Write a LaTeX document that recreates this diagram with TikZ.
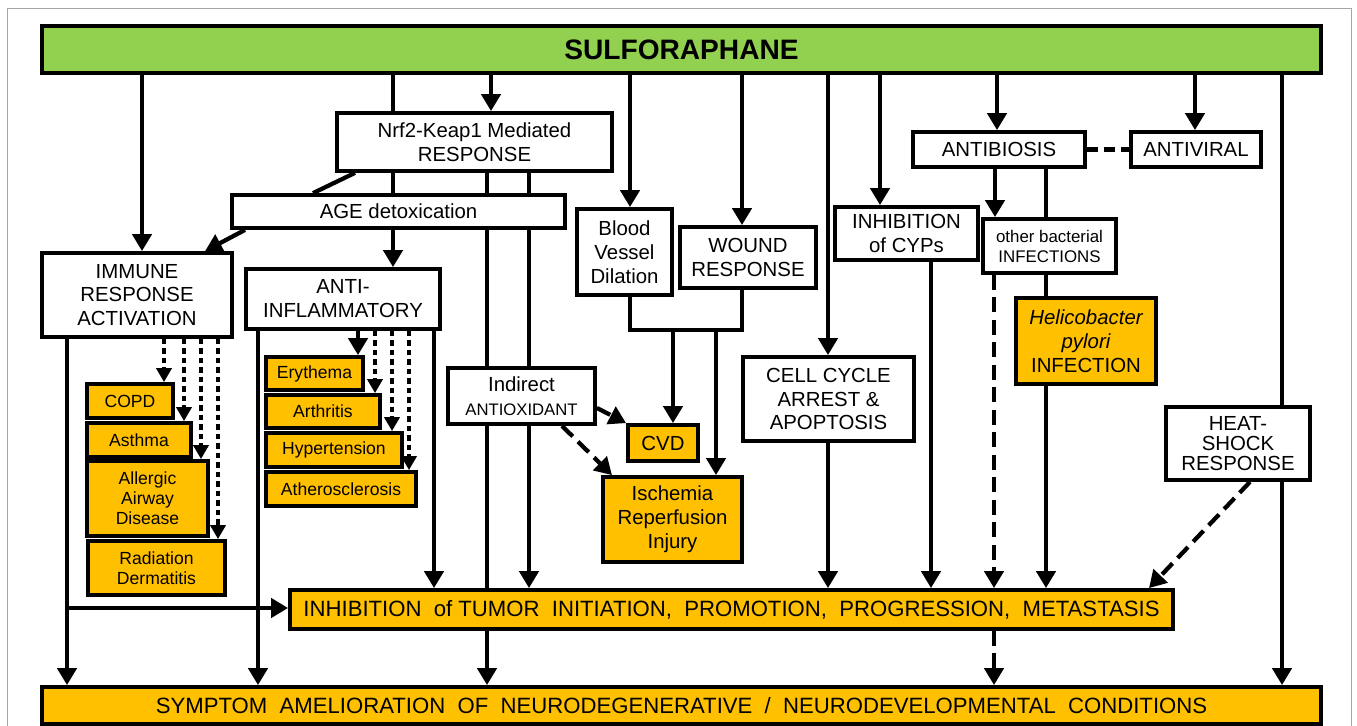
\documentclass[tikz,border=0pt]{standalone}
\usepackage{fontspec}
\setmainfont{Liberation Sans}
\usetikzlibrary{arrows.meta}
\definecolor{verde}{HTML}{92D050}
\definecolor{naranjo}{HTML}{FFC000}
\tikzset{
  caja/.style={draw, line width=0.75mm, fill=white, align=center, inner sep=0pt, font=\fontsize{11.6}{13.6}\selectfont},
  naranja/.style={caja, fill=naranjo},
  chica/.style={font=\fontsize{10}{11.4}\selectfont},
  grande/.style={font=\fontsize{12.6}{14}\selectfont},
  tam/.style 2 args={minimum width=#1*0.02cm, minimum height=#2*0.02cm},
  linea/.style={line width=0.85mm},
  flecha/.style={linea, -{Triangle[width=3.8mm,length=3.4mm]}},
  punteada/.style={line width=0.75mm, dash pattern=on 1.1mm off 0.8mm, -{Triangle[width=3mm,length=2.8mm]}},
  discont/.style={linea, dash pattern=on 3mm off 1.5mm, -{Triangle[width=3.8mm,length=3.4mm]}},
}
\begin{document}
\begin{tikzpicture}[x=0.02cm, y=-0.02cm]
        \useasboundingbox (0,0) rectangle (1357,726);
        \clip (0,0) rectangle (1357,726);
        \fill[white] (0,0) rectangle (1357,726);
        \draw[gray!70, line width=0.4pt] (7,8) rectangle (1351,760); %marco
        %%%%%%%%%%%%%%%%%%%%%%%% Nodos superiores %%%%%%%%%%%%%%%%%%%%%%%%%%%%%%%%%
        \node[caja, fill=verde, tam={1279}{47}, font=\fontsize{16}{18}\bfseries] (sulf) at (681.5,49.5) {SULFORAPHANE};
        \node[caja, tam={275}{58}] (nrf) at (474.5,142) {Nrf2-Keap1 Mediated\\RESPONSE};
        \node[caja, tam={333}{33}] (age) at (398.5,211.5) {AGE detoxication};
        \node[caja, tam={190}{84}] (inmune) at (137,295) {IMMUNE\\RESPONSE\\ACTIVATION};
        \node[caja, tam={194}{60}] (antiinf) at (343,299) {ANTI-\\INFLAMMATORY};
        \node[caja, tam={95}{86}] (vaso) at (624.5,252) {Blood\\Vessel\\Dilation};
        \node[caja, tam={136}{61}] (herida) at (748,257.5) {WOUND\\RESPONSE};
        \node[caja, tam={143}{53}] (cyp) at (906.5,233.5) {INHIBITION\\of CYPs};
        \node[caja, tam={172}{35}] (antib) at (999,149.5) {ANTIBIOSIS};
        \node[caja, tam={130}{35}] (antiv) at (1196,149.5) {ANTIVIRAL};
        \node[caja, tam={133}{54}, font=\fontsize{9.6}{11.4}\selectfont] (otras) at (1049.5,246) {other bacterial\\INFECTIONS};
        %%%%%%%%%%%%%%%%%%%%%%%% Nodos intermedios %%%%%%%%%%%%%%%%%%%%%%%%%%%%%%%%
        \node[naranja, tam={140}{86}] (helico) at (1086,341) {\itshape Helicobacter\\\itshape pylori\\INFECTION};
        \node[caja, tam={171}{84}] (ciclo) at (828.5,399) {CELL CYCLE\\ARREST \&\\APOPTOSIS};
        \node[caja, tam={144}{73}, font=\fontsize{11.6}{11.6}\selectfont] (calor) at (1238,443.5) {HEAT-\\SHOCK\\RESPONSE};
        \node[caja, tam={147}{56}] (indirecto) at (521.5,396) {Indirect\\{\fontsize{9.5}{11}\selectfont ANTIOXIDANT}};
        \node[naranja, tam={70}{36}] (cvd) at (663,443) {CVD};
        \node[naranja, tam={139}{85}] (isquemia) at (672.5,519.5) {Ischemia\\Reperfusion\\Injury};
        %%%%%%%%%%%%%%%%%%%%%%%% Enfermedades %%%%%%%%%%%%%%%%%%%%%%%%%%%%%%%%%%%%%
        \node[naranja, chica, tam={86}{34}] (copd) at (130,401) {COPD};
        \node[naranja, chica, tam={104}{34}] (asma) at (139,440) {Asthma};
        \node[naranja, chica, tam={121}{75}] (alergia) at (147.5,498.5) {Allergic\\Airway\\Disease};
        \node[naranja, chica, tam={137}{54}] (radiacion) at (156.5,568) {Radiation\\Dermatitis};
        \node[naranja, chica, tam={97}{33}] (eritema) at (314.5,373.5) {Erythema};
        \node[naranja, chica, tam={114}{33}] (artritis) at (323,411.5) {Arthritis};
        \node[naranja, chica, tam={136}{34}] (hipert) at (334,450) {Hypertension};
        \node[naranja, chica, tam={150}{34}] (atero) at (341,489) {Atherosclerosis};
        %%%%%%%%%%%%%%%%%%%%%%%% Nodos inferiores %%%%%%%%%%%%%%%%%%%%%%%%%%%%%%%%%
        \node[naranja, grande, tam={883}{39}] (tumor) at (731.5,609.5) {INHIBITION\ \ of TUMOR\ \ INITIATION,\ \ PROMOTION,\ \ PROGRESSION,\ \ METASTASIS};
        \node[naranja, grande, tam={1279}{37}] (sintoma) at (681.5,705.5) {SYMPTOM\ \ AMELIORATION\ \ OF\ \ NEURODEGENERATIVE\ \ /\ \ NEURODEVELOPMENTAL\ \ CONDITIONS};
        %%%%%%%%%%%%%%%%%%%%%%%% Flechas desde SULFORAPHANE %%%%%%%%%%%%%%%%%%%%%%%%
        \draw[flecha] (142,0 |- sulf.south) -- (142,0 |- inmune.north);
        \draw[linea] (393,0 |- sulf.south) -- (393,0 |- nrf.north); %sin punta
        \draw[flecha] (491,0 |- sulf.south) -- (491,0 |- nrf.north);
        \draw[flecha] (630,0 |- sulf.south) -- (630,0 |- vaso.north);
        \draw[flecha] (742,0 |- sulf.south) -- (742,0 |- herida.north);
        \draw[flecha] (828,0 |- sulf.south) -- (828,0 |- ciclo.north);
        \draw[flecha] (880,0 |- sulf.south) -- (880,0 |- cyp.north);
        \draw[flecha] (997,0 |- sulf.south) -- (997,0 |- antib.north);
        \draw[flecha] (1195,0 |- sulf.south) -- (1195,0 |- antiv.north);
        \draw[linea] (1282,0 |- sulf.south) -- (1282,0 |- calor.north);
        \draw[flecha] (1282,0 |- calor.south) -- (1282,0 |- sintoma.north);
        %%%%%%%%%%%%%%%%%%%%%%%% Respuesta Nrf2 %%%%%%%%%%%%%%%%%%%%%%%%%%%%%%%%%%%
        \draw[linea] (355,0 |- nrf.south) -- (313,0 |- age.north); %diagonal
        \draw[linea] (393,0 |- nrf.south) -- (393,0 |- age.north);
        \draw[linea] (487,0 |- nrf.south) -- (487,0 |- age.north);
        \draw[linea] (529,0 |- nrf.south) -- (529,0 |- age.north);
        \draw[linea] (487,0 |- age.south) -- (487,0 |- indirecto.north);
        \draw[linea] (529,0 |- age.south) -- (529,0 |- indirecto.north);
        \draw[linea] (487,0 |- indirecto.south) -- (487,0 |- tumor.north);
        \draw[flecha] (529,0 |- indirecto.south) -- (529,0 |- tumor.north);
        \draw[flecha] (487,0 |- tumor.south) -- (487,0 |- sintoma.north);
        \draw[flecha] (245,0 |- age.south) -- (205,0 |- inmune.north); %diagonal
        \draw[flecha] (393,0 |- age.south) -- (393,0 |- antiinf.north);
        %%%%%%%%%%%%%%%%%%%%%%%% Respuesta inmune %%%%%%%%%%%%%%%%%%%%%%%%%%%%%%%%%
        \draw[flecha] (67,0 |- inmune.south) -- (67,0 |- sintoma.north);
        \coordinate (desvio) at (67,608);
        \draw[flecha] (desvio) -- (desvio -| tumor.west);
        \draw[punteada] (164,0 |- inmune.south) -- (164,0 |- copd.north);
        \draw[punteada] (184,0 |- inmune.south) -- (184,0 |- asma.north);
        \draw[punteada] (201,0 |- inmune.south) -- (201,0 |- alergia.north);
        \draw[punteada] (218,0 |- inmune.south) -- (218,0 |- radiacion.north);
        %%%%%%%%%%%%%%%%%%%%%%%% Antiinflamatorio %%%%%%%%%%%%%%%%%%%%%%%%%%%%%%%%%
        \draw[flecha] (258,0 |- antiinf.south) -- (258,0 |- sintoma.north);
        \draw[flecha] (434,0 |- antiinf.south) -- (434,0 |- tumor.north);
        \draw[flecha] (358,0 |- antiinf.south) -- (358,0 |- eritema.north);
        \draw[punteada] (375,0 |- antiinf.south) -- (375,0 |- artritis.north);
        \draw[punteada] (392,0 |- antiinf.south) -- (392,0 |- hipert.north);
        \draw[punteada] (409,0 |- antiinf.south) -- (409,0 |- atero.north);
        %%%%%%%%%%%%%%%%%%%%%%%% Vasos y heridas %%%%%%%%%%%%%%%%%%%%%%%%%%%%%%%%%%
        \coordinate (union) at (686,330);
        \draw[linea] (630,0 |- vaso.south) |- (union) -| (742,0 |- herida.south);
        \draw[flecha] (673,0 |- union) -- (673,0 |- cvd.north);
        \draw[flecha] (716,0 |- union) -- (716,0 |- isquemia.north);
        \draw[discont] (indirecto.-9) -- (cvd.north west);
        \draw[discont] (562,0 |- indirecto.south) -- (612,0 |- isquemia.north);
        %%%%%%%%%%%%%%%%%%%%%%%% Lado derecho %%%%%%%%%%%%%%%%%%%%%%%%%%%%%%%%%%%%%
        \draw[flecha] (828,0 |- ciclo.south) -- (828,0 |- tumor.north);
        \draw[flecha] (931,0 |- cyp.south) -- (931,0 |- tumor.north);
        \draw[flecha] (995,0 |- antib.south) -- (995,0 |- otras.north);
        \draw[linea] (1046,0 |- antib.south) -- (1046,0 |- otras.north);
        \draw[linea] (1046,0 |- otras.south) -- (1046,0 |- helico.north);
        \draw[flecha] (1046,0 |- helico.south) -- (1046,0 |- tumor.north);
        \draw[discont] (994,0 |- otras.south) -- (994,0 |- tumor.north);
        \draw[discont] (994,0 |- tumor.south) -- (994,0 |- sintoma.north);
        \draw[linea, dash pattern=on 2.2mm off 1.2mm] (antib.east) -- (antiv.west);
        \draw[discont] (1250,0 |- calor.south) -- (1149,0 |- tumor.north);
\end{tikzpicture}
\end{document}
